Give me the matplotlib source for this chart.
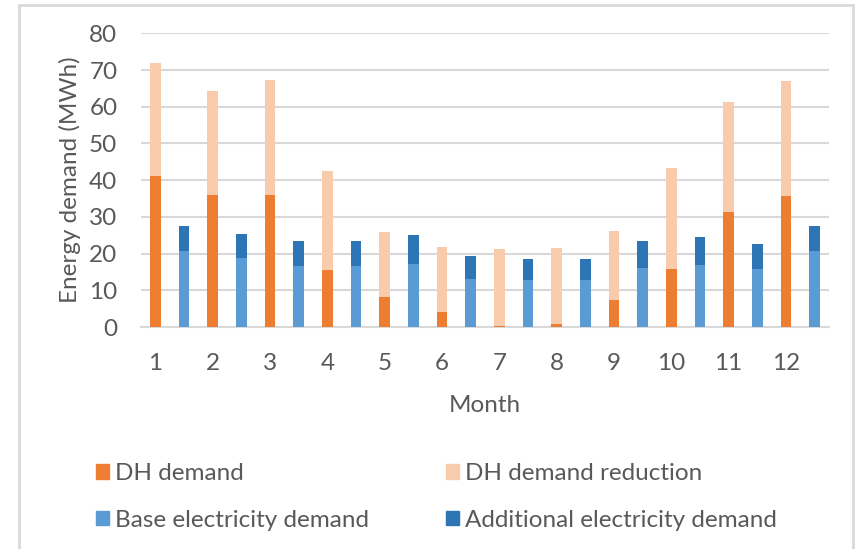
import matplotlib
matplotlib.use('Agg')
import matplotlib.pyplot as plt
from matplotlib.patches import Rectangle, Patch
import numpy as np

plt.rcParams['font.family'] = ['Lato', 'DejaVu Sans']

months = [str(m) for m in range(1, 13)]
dh_demand = [41.1, 36.0, 36.0, 15.6, 8.3, 4.1, 0.4, 0.9, 7.3, 15.9, 31.2, 35.7]
dh_reduction = [30.9, 28.4, 31.3, 26.8, 17.5, 17.8, 20.9, 20.7, 18.8, 27.5, 30.0, 31.2]
base_elec = [20.7, 18.8, 16.5, 16.5, 17.2, 13.0, 12.7, 12.7, 16.2, 16.8, 15.9, 20.7]
extra_elec = [6.9, 6.4, 6.8, 7.0, 7.9, 6.4, 5.8, 5.8, 7.3, 7.7, 6.7, 6.9]

C_DH = '#ED7D31'
C_RED = '#F8CBAD'
C_BASE = '#5B9BD5'
C_ADD = '#2E75B6'
TXT = '#595959'
GRID = '#D9D9D9'
FS = 17.5

W, H = 856, 549
fig = plt.figure(figsize=(W / 100, H / 100), dpi=100)
ax = fig.add_axes([141 / W, 1 - 327 / H, (829 - 141) / W, (327 - 33.3) / H])

# two slots per month: heating bar then electricity bar
x_dh = np.arange(12) * 2
x_el = x_dh + 1
bw = 0.38

ax.bar(x_dh, dh_demand, bw, color=C_DH, zorder=3)
ax.bar(x_dh, dh_reduction, bw, bottom=dh_demand, color=C_RED, zorder=3)
ax.bar(x_el, base_elec, bw, color=C_BASE, zorder=3)
ax.bar(x_el, extra_elec, bw, bottom=base_elec, color=C_ADD, zorder=3)

ax.set_xlim(-0.5, 23.5)
ax.set_ylim(0, 80)
ax.set_yticks(range(0, 81, 10))
ax.set_xticks(x_dh)
ax.set_xticklabels(months)
ax.yaxis.grid(True, color=GRID, lw=1.5, zorder=0)
for s in ['top', 'right', 'left']:
    ax.spines[s].set_visible(False)
ax.spines['bottom'].set_color(GRID)
ax.spines['bottom'].set_linewidth(1.5)
ax.tick_params(length=0, labelsize=FS, colors=TXT)
ax.tick_params(axis='y', pad=17)
ax.tick_params(axis='x', pad=19)
ax.set_ylabel('Energy demand (MWh)', fontsize=FS, color=TXT, labelpad=6)
ax.set_xlabel('Month', fontsize=FS, color=TXT, labelpad=15)

handles = [Patch(color=C_DH, label='DH demand'),
           Patch(color=C_BASE, label='Base electricity demand'),
           Patch(color=C_RED, label='DH demand reduction'),
           Patch(color=C_ADD, label='Additional electricity demand')]
leg = fig.legend(handles=handles, ncol=2, loc='center left',
                 bbox_to_anchor=(74 / W, 1 - 497 / H), frameon=False,
                 fontsize=FS, labelcolor=TXT, handlelength=0.55,
                 handleheight=0.55, handletextpad=0.25, columnspacing=3.15,
                 labelspacing=1.05)

fig.patches.append(Rectangle((19 / W, -0.05), (853 - 19) / W, 1.05 - 5 / H,
                             transform=fig.transFigure, fill=False,
                             edgecolor=GRID, lw=2))

fig.savefig('out.png', dpi=100)
